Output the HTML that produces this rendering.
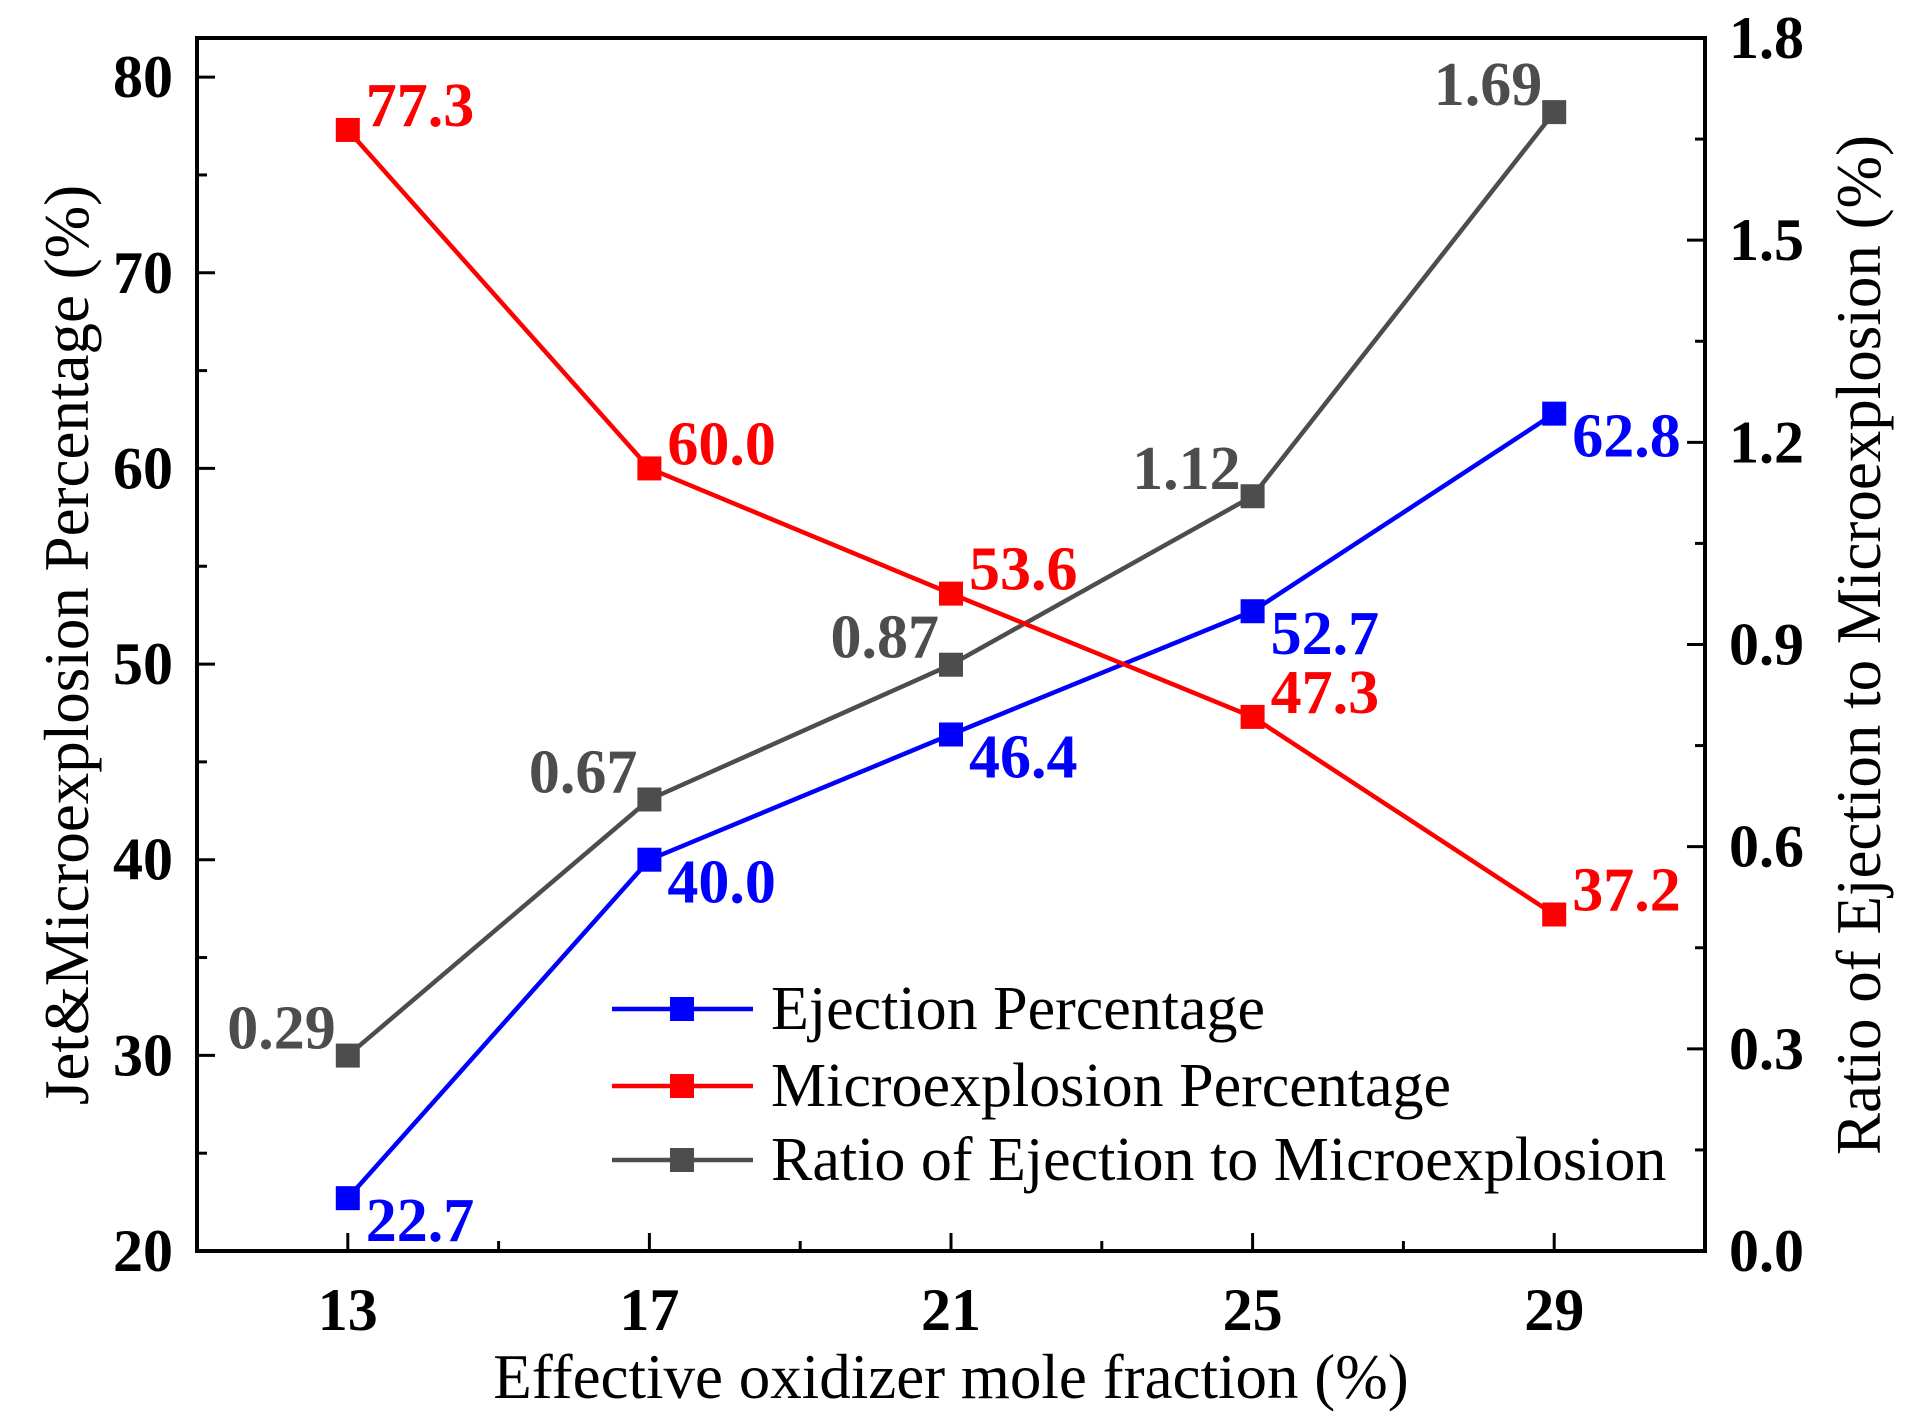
<!DOCTYPE html>
<html><head><meta charset="utf-8"><style>body{margin:0;background:#fff}svg{display:block}text{font-family:"Liberation Serif",serif}</style></head>
<body>
<svg id="chart" width="1920" height="1422" viewBox="0 0 1920 1422"></svg>
<script>
const categories=[13,17,21,25,29];
const ejection=[22.7,40.0,46.4,52.7,62.8];
const microexplosion=[77.3,60.0,53.6,47.3,37.2];
const ratio=[0.29,0.67,0.87,1.12,1.69];
const ratioLabels=["0.29","0.67","0.87","1.12","1.69"];
const leftTicks=[20,30,40,50,60,70,80];
const rightTicks=[0.0,0.3,0.6,0.9,1.2,1.5,1.8];
const xTicks=[13,17,21,25,29];

const L=197,R=1705,T=38,B=1251;
const X=v=>L+(v-11)/(31-11)*(R-L);
const YL=v=>B-(v-20)/(82-20)*(B-T);
const YR=v=>B-(v-0)/(1.8-0)*(B-T);
const svg=document.getElementById('chart');
const NS='http://www.w3.org/2000/svg';
function mk(tag,attrs,txt){const e=document.createElementNS(NS,tag);for(const k in attrs)e.setAttribute(k,attrs[k]);if(txt!==undefined)e.textContent=txt;svg.appendChild(e);return e;}

let e=mk('rect',{x:L,y:T,width:R-L,height:B-T,fill:'none',stroke:'#000','stroke-width':4});


for(let v=20;v<=80;v+=5){const major=v%10===0;e=mk('line',{x1:L,x2:L+(major?18:10),y1:YL(v),y2:YL(v),stroke:'#000','stroke-width':3});

}
leftTicks.forEach(v=>{e=mk('text',{x:L-24,y:YL(v)+20,'text-anchor':'end','font-size':60,'font-weight':'bold'},String(v));

});
for(let i=0;i<=12;i++){const v=i*0.15;const major=i%2===0;e=mk('line',{x1:R,x2:R-(major?18:10),y1:YR(v),y2:YR(v),stroke:'#000','stroke-width':3});

}
rightTicks.forEach(v=>{e=mk('text',{x:R+24,y:YR(v)+20,'text-anchor':'start','font-size':60,'font-weight':'bold'},v.toFixed(1));

});
for(let v=13;v<=29;v+=2){const major=(v-13)%4===0;e=mk('line',{x1:X(v),x2:X(v),y1:B,y2:B-(major?18:10),stroke:'#000','stroke-width':3});

}
xTicks.forEach(v=>{e=mk('text',{x:X(v),y:1330,'text-anchor':'middle','font-size':60,'font-weight':'bold'},String(v));

});
e=mk('text',{x:951,y:1398,'text-anchor':'middle','font-size':63},'Effective oxidizer mole fraction (%)');


e=mk('text',{x:0,y:0,'text-anchor':'middle','font-size':63,transform:'translate(88,645) rotate(-90)'},'Jet&Microexplosion Percentage (%)');


e=mk('text',{x:0,y:0,'text-anchor':'middle','font-size':63,transform:'translate(1880,645) rotate(-90)'},'Ratio of Ejection to Microexplosion (%)');



function series(vals,yf,color,name){
  const pts=vals.map((v,i)=>X(categories[i])+','+yf(v)).join(' ');
  e=mk('polyline',{points:pts,fill:'none',stroke:color,'stroke-width':4.5});
  
  
  vals.forEach((v,i)=>{e=mk('rect',{x:X(categories[i])-12,y:yf(v)-12,width:24,height:24,fill:color});
  
  });
}
series(ratio,YR,'#4d4d4d','ratio');
series(ejection,YL,'#0000ff','ejection');
series(microexplosion,YL,'#ff0000','microexplosion');
ejection.forEach((v,i)=>{e=mk('text',{x:X(categories[i])+18,y:YL(v)+43,'font-size':62,'font-weight':'bold',fill:'#0000ff'},v.toFixed(1));

});
microexplosion.forEach((v,i)=>{e=mk('text',{x:X(categories[i])+18,y:YL(v)-4,'font-size':62,'font-weight':'bold',fill:'#ff0000'},v.toFixed(1));

});
ratio.forEach((v,i)=>{e=mk('text',{x:X(categories[i])-12,y:YR(v)-7,'text-anchor':'end','font-size':62,'font-weight':'bold',fill:'#4d4d4d'},ratioLabels[i]);

});

const leg=[['Ejection Percentage','#0000ff',1009],['Microexplosion Percentage','#ff0000',1086],['Ratio of Ejection to Microexplosion','#4d4d4d',1160]];
leg.forEach(([t,c,y])=>{
  e=mk('line',{x1:612,x2:753,y1:y,y2:y,stroke:c,'stroke-width':4.5});
  
  
  e=mk('rect',{x:670,y:y-12,width:24,height:24,fill:c});
  
  
  e=mk('text',{x:771,y:y+20,'font-size':62},t);
  
  
});
</script>
</body></html>
